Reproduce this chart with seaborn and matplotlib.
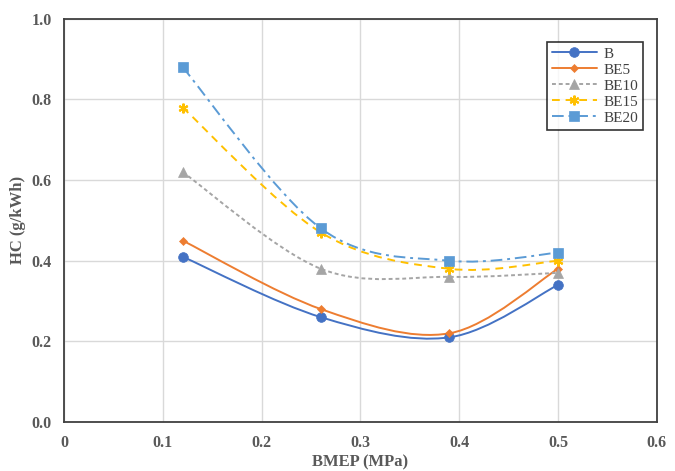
import matplotlib
matplotlib.use("Agg")
import matplotlib.pyplot as plt
import seaborn as sns
import numpy as np
import pandas as pd
from matplotlib.path import Path
from matplotlib.patches import PathPatch
from matplotlib.lines import Line2D

bmep = [0.12, 0.26, 0.39, 0.50]
series_names = ["B", "BE5", "BE10", "BE15", "BE20"]
hc_B = [0.41, 0.26, 0.21, 0.34]
hc_BE5 = [0.45, 0.28, 0.22, 0.38]
hc_BE10 = [0.62, 0.38, 0.36, 0.37]
hc_BE15 = [0.78, 0.47, 0.38, 0.40]
hc_BE20 = [0.88, 0.48, 0.40, 0.42]
x_ticks = [0, 0.1, 0.2, 0.3, 0.4, 0.5, 0.6]
y_ticks = [0.0, 0.2, 0.4, 0.6, 0.8, 1.0]

values = {"B": hc_B, "BE5": hc_BE5, "BE10": hc_BE10, "BE15": hc_BE15, "BE20": hc_BE20}
colors = {"B": "#4472C4", "BE5": "#ED7D31", "BE10": "#A5A5A5", "BE15": "#FFC000", "BE20": "#5B9BD5"}
styles = {"B": "-", "BE5": "-", "BE10": (0, (2, 1.5)), "BE15": (0, (4, 3)), "BE20": (0, (6, 2.5, 1.5, 2.5))}
markers = {"B": "o", "BE5": "D", "BE10": "^", "BE15": (6, 2, 0), "BE20": "s"}
msizes = {"B": 7, "BE5": 4.5, "BE10": 6.5, "BE15": 7, "BE20": 7}

df = pd.DataFrame([(n, x, y) for n in series_names for x, y in zip(bmep, values[n])],
                  columns=["series", "BMEP", "HC"])

sns.set_style("white")
plt.rcParams["font.family"] = ["Liberation Serif", "DejaVu Serif"]

fig = plt.figure(figsize=(6.75, 4.71), dpi=100)
ax = fig.add_axes([0.095, 0.104, 0.878, 0.856])


def smooth_path(xs, ys):
    pts = np.column_stack([xs, ys])
    n = len(pts)
    verts = [pts[0]]
    codes = [Path.MOVETO]
    for i in range(n - 1):
        p0 = pts[i - 1] if i > 0 else pts[i]
        p1 = pts[i]
        p2 = pts[i + 1]
        p3 = pts[i + 2] if i + 2 < n else pts[i + 1]
        c1 = p1 + (p2 - p0) / 6.0
        c2 = p2 - (p3 - p1) / 6.0
        verts += [c1, c2, p2]
        codes += [Path.CURVE4] * 3
    return Path(verts, codes)


handles = []
for n in series_names:
    sub = df[df.series == n]
    patch = PathPatch(smooth_path(sub.BMEP.values, sub.HC.values), facecolor="none",
                      edgecolor=colors[n], lw=1.4, linestyle=styles[n], zorder=3)
    ax.add_patch(patch)
    sns.lineplot(data=sub, x="BMEP", y="HC", ax=ax, linestyle="none", marker=markers[n],
                 markersize=msizes[n], color=colors[n], markeredgecolor=colors[n],
                 markeredgewidth=1.5 if n == "BE15" else 0.5, zorder=4, legend=False)
    handles.append(Line2D([], [], color=colors[n], lw=1.4, linestyle=styles[n],
                          marker=markers[n], markersize=msizes[n],
                          markeredgecolor=colors[n],
                          markeredgewidth=1.5 if n == "BE15" else 0.5))

ax.set_xlim(0, 0.6)
ax.set_ylim(0, 1.0)
ax.set_xticks(x_ticks)
ax.set_yticks(y_ticks)
ax.set_xticklabels(["0", "0.1", "0.2", "0.3", "0.4", "0.5", "0.6"])
ax.set_yticklabels([f"{v:.1f}" for v in y_ticks])
ax.grid(True, color="#D9D9D9", lw=1.0)
ax.set_axisbelow(True)
for s in ax.spines.values():
    s.set_color("#404040")
    s.set_linewidth(1.3)
ax.tick_params(length=0, pad=9, labelsize=11.5, labelcolor="#595959")
for lab in ax.get_xticklabels() + ax.get_yticklabels():
    lab.set_fontweight("bold")
ax.set_xlabel("BMEP (MPa)", fontsize=12, fontweight="bold", color="#595959", labelpad=3)
ax.set_ylabel("HC (g/kWh)", fontsize=12, fontweight="bold", color="#595959", labelpad=4)

leg = ax.legend(handles, series_names, loc="upper right", bbox_to_anchor=(0.977, 0.942),
                borderaxespad=0, frameon=True, fancybox=False, edgecolor="black", fontsize=11,
                handlelength=3.0, labelspacing=0.15, borderpad=0.32, handletextpad=0.4)
leg.get_frame().set_linewidth(1.2)
for t in leg.get_texts():
    t.set_color("#404040")

fig.savefig("out.png", dpi=100)
